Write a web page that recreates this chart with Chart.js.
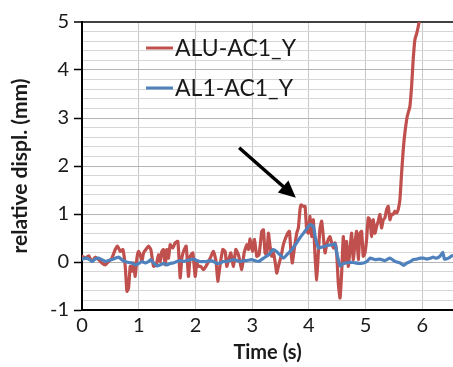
<!DOCTYPE html>
<html>
<head>
<meta charset="utf-8">
<script src="https://cdn.jsdelivr.net/npm/chart.js@4/dist/chart.umd.min.js"></script>
<style>
  html, body { margin: 0; padding: 0; background: #ffffff; }
  #wrap { width: 453px; height: 367px; }
</style>
</head>
<body>
<div id="wrap"><canvas id="c" width="453" height="367"></canvas></div>
<script>
// ---- Data ----
const seriesNames = ['ALU-AC1_Y', 'AL1-AC1_Y'];
const xTickValues = [0, 1, 2, 3, 4, 5, 6];
const yTickValues = [-1, 0, 1, 2, 3, 4, 5];

// ALU-AC1_Y (red)
const tRed = [
  0.00,0.058,0.117,0.175,0.234,0.293,0.351,0.410,0.469,0.527,0.586,0.627,0.674,0.721,0.762,0.792,0.821,0.850,0.880,0.909,
  0.938,0.968,0.997,1.026,1.056,1.085,1.126,1.173,1.214,1.261,1.308,1.349,1.379,1.408,1.437,1.467,1.496,1.525,1.555,1.601,
  1.643,1.690,1.731,1.760,1.789,1.836,1.877,1.907,1.954,1.995,2.024,2.054,2.094,2.141,2.200,2.259,2.317,2.364,2.394,2.435,
  2.482,2.523,2.552,2.593,2.623,2.670,2.711,2.758,2.817,2.858,2.905,2.935,2.963,
  3.004,3.040,3.081,3.121,3.169,3.198,3.227,3.257,3.286,3.315,3.345,3.374,3.403,3.433,3.462,3.509,3.550,3.579,3.626,3.656,
  3.685,3.708,3.744,3.785,3.814,3.843,3.861,3.902,3.932,3.961,3.990,4.020,4.049,4.078,4.107,4.137,4.166,4.196,4.225,4.254,
  4.284,4.313,4.342,4.371,4.401,4.430,4.460,4.489,4.518,4.548,4.577,4.606,4.636,4.665,4.694,4.724,4.753,4.782,4.812,4.841,
  4.870,4.900,4.929,4.958,4.988,5.017,5.046,5.076,5.105,5.134,5.164,5.193,5.222,5.252,5.281,5.310,5.340,5.369,5.398,5.428,
  5.457,5.486,5.516,5.545,5.574,
  5.604,5.634,5.663,5.692,5.733,5.780,5.810,5.838,5.868,5.908,5.944,5.980
];
const vRed = [
  0.12,0.08,0.13,0.01,0.10,0.05,-0.02,-0.06,0.01,0.08,0.26,0.33,0.22,0.26,-0.09,-0.61,-0.54,-0.09,-0.19,-0.02,
  -0.30,0.08,0.22,0.15,0.01,0.19,0.26,0.33,0.26,-0.09,-0.06,0.15,0.01,0.22,0.26,-0.06,0.26,0.08,0.36,0.29,
  0.40,0.43,-0.33,0.08,0.22,0.33,-0.30,0.12,0.19,-0.30,-0.02,-0.09,-0.09,-0.16,-0.06,0.08,0.22,0.01,-0.40,-0.06,
  0.26,0.22,-0.09,0.08,0.19,-0.09,0.26,0.15,-0.16,0.19,0.36,0.26,0.48,
  0.22,0.47,0.12,0.15,0.64,0.67,0.19,0.15,0.60,0.33,0.12,0.19,0.01,-0.23,-0.09,0.12,0.36,0.47,0.60,0.64,
  0.19,-0.02,0.29,0.60,0.71,1.09,1.19,1.16,1.16,0.67,0.60,0.95,0.53,0.88,0.15,-0.37,0.19,0.71,0.85,0.53,
  0.19,0.36,0.47,0.53,0.40,0.29,0.40,0.19,-0.44,-0.75,-0.23,0.53,-0.02,0.43,-0.09,0.26,0.60,0.05,0.40,0.64,
  0.05,0.60,0.64,0.12,0.19,0.47,0.92,0.88,0.53,0.88,0.60,0.74,0.85,0.99,0.71,0.88,0.92,1.09,1.16,0.88,
  0.99,0.99,1.06,1.02,1.09,
  1.30,1.85,2.34,2.69,3.03,3.24,3.66,4.21,4.63,4.80,5.01,5.30
];

// AL1-AC1_Y (blue)
const tBlue = [
  0.00,0.06,0.12,0.18,0.23,0.29,0.35,0.41,0.47,0.53,0.59,0.65,0.70,0.76,0.82,0.88,0.94,1.00,1.06,1.11,
  1.17,1.21,1.26,1.32,1.38,1.44,1.50,1.55,1.61,1.67,1.73,1.79,1.85,1.91,1.97,2.02,2.08,2.14,2.20,2.26,
  2.32,2.38,2.44,2.49,2.55,2.61,2.67,2.73,2.79,2.85,2.90,
  2.99,3.11,3.20,3.29,3.37,3.43,3.49,3.55,3.61,3.70,3.76,3.84,3.93,4.02,4.08,4.11,4.17,4.23,4.31,4.40,
  4.46,4.49,4.55,4.61,4.70,4.78,4.87,4.96,5.02,5.08,5.17,5.25,5.34,5.43,5.52,
  5.61,5.67,5.73,5.79,5.84,5.90,5.96,6.02,6.08,6.14,6.19,6.25,6.31,6.36,6.39,6.46,6.52
];
const vBlue = [
  0.06,0.08,0.06,0.01,0.06,0.08,0.05,0.01,0.03,0.05,0.08,0.10,0.05,0.01,-0.01,-0.02,-0.06,-0.03,0.01,-0.02,
  0.01,0.05,-0.02,-0.08,-0.06,-0.03,-0.06,-0.03,-0.02,0.01,0.03,0.01,0.03,0.05,0.06,0.03,0.01,0.01,0.01,0.03,
  0.01,-0.03,-0.02,0.01,0.01,0.03,0.05,0.03,0.01,0.03,0.03,
  0.05,0.01,0.08,0.15,0.26,0.22,0.15,0.08,0.15,0.26,0.36,0.50,0.64,0.78,0.74,0.53,0.29,0.31,0.34,0.36,
  0.38,0.19,-0.08,-0.03,-0.01,-0.01,-0.03,-0.02,0.01,0.08,0.05,0.06,0.03,0.08,0.01,
  -0.02,-0.07,-0.02,0.01,0.05,0.06,0.08,0.08,0.06,0.08,0.10,0.08,0.12,0.20,0.06,0.08,0.13
];

// Annotation arrow (data coordinates: start -> tip)
const arrowFrom = [2.77, 2.38];
const arrowTo = [3.77, 1.34];

const RED = '#c0504d';
const BLUE = '#4f81bd';
const FONT = 'Lato, "Open Sans", "DejaVu Sans", sans-serif';

function pts(ts, vs) { return ts.map((t, i) => ({ x: t, y: vs[i] })); }
function isInt(v) { return Math.abs(v - Math.round(v)) < 1e-6; }

const legendPlugin = {
  id: 'insideLegend',
  afterDraw(chart) {
    const ctx = chart.ctx;
    const items = [
      { label: seriesNames[0], color: RED, y: 48 },
      { label: seriesNames[1], color: BLUE, y: 88 }
    ];
    ctx.save();
    items.forEach(it => {
      ctx.strokeStyle = it.color;
      ctx.lineWidth = 3;
      ctx.beginPath();
      ctx.moveTo(146, it.y);
      ctx.lineTo(173, it.y);
      ctx.stroke();
      ctx.fillStyle = '#1a1a1a';
      ctx.font = '23px ' + FONT;
      ctx.textBaseline = 'middle';
      ctx.textAlign = 'left';
      ctx.fillText(it.label, 175, it.y + 1);
    });
    ctx.restore();
  }
};

const arrowPlugin = {
  id: 'arrow',
  afterDatasetsDraw(chart) {
    const xs = chart.scales.x, ys = chart.scales.y, ctx = chart.ctx;
    const x0 = xs.getPixelForValue(arrowFrom[0]), y0 = ys.getPixelForValue(arrowFrom[1]);
    const x1 = xs.getPixelForValue(arrowTo[0]), y1 = ys.getPixelForValue(arrowTo[1]);
    const ang = Math.atan2(y1 - y0, x1 - x0);
    const headLen = 17, headW = 8;
    const bx = x1 - headLen * Math.cos(ang), by = y1 - headLen * Math.sin(ang);
    ctx.save();
    ctx.strokeStyle = '#000';
    ctx.fillStyle = '#000';
    ctx.lineWidth = 3.5;
    ctx.beginPath();
    ctx.moveTo(x0, y0);
    ctx.lineTo(bx + 2 * Math.cos(ang), by + 2 * Math.sin(ang));
    ctx.stroke();
    ctx.beginPath();
    ctx.moveTo(x1, y1);
    ctx.lineTo(bx + headW * Math.sin(ang), by - headW * Math.cos(ang));
    ctx.lineTo(bx - headW * Math.sin(ang), by + headW * Math.cos(ang));
    ctx.closePath();
    ctx.fill();
    ctx.restore();
  }
};

function build() {
  new Chart(document.getElementById('c'), {
    type: 'line',
    data: {
      datasets: [
        { label: seriesNames[0], data: pts(tRed, vRed), borderColor: RED, borderWidth: 3.2,
          pointRadius: 0, tension: 0.15, borderJoinStyle: 'round', borderCapStyle: 'round', order: 1 },
        { label: seriesNames[1], data: pts(tBlue, vBlue), borderColor: BLUE, borderWidth: 3.2,
          pointRadius: 0, tension: 0.15, borderJoinStyle: 'round', borderCapStyle: 'round', order: 0 }
      ]
    },
    options: {
      responsive: false,
      animation: false,
      devicePixelRatio: 1,
      layout: { padding: { top: 22, right: 0, bottom: 0, left: 0 } },
      plugins: { legend: { display: false }, tooltip: { enabled: false } },
      scales: {
        x: {
          type: 'linear', min: 0, max: 6.54,
          afterFit(s) { s.height = 57; },
          ticks: {
            stepSize: 1, includeBounds: false, autoSkip: false, maxRotation: 0,
            color: '#1a1a1a', font: { family: FONT, size: 20 }, padding: 4,
            callback: v => (xTickValues.includes(Math.round(v)) && isInt(v)) ? String(Math.round(v)) : ''
          },
          grid: { color: '#c8c8c8', lineWidth: 1, drawTicks: false },
          border: { color: '#000', width: 2 },
          title: { display: true, text: 'Time (s)', color: '#1a1a1a',
                   font: { family: FONT, size: 20, weight: 'bold' }, padding: { top: 0, bottom: 2 } }
        },
        y: {
          type: 'linear', min: -1, max: 5,
          afterFit(s) { s.width = 82; },
          ticks: {
            stepSize: 0.2, autoSkip: false, color: '#1a1a1a', font: { family: FONT, size: 20 }, padding: 5,
            callback: v => (isInt(v) && yTickValues.includes(Math.round(v))) ? String(Math.round(v)) : ''
          },
          grid: {
            tickLength: 8,
            color: c => isInt(c.tick.value) ? (Math.round(c.tick.value) === 5 ? '#404040' : '#b4b4b4') : '#d6d6d6',
            lineWidth: c => (isInt(c.tick.value) && Math.round(c.tick.value) === 5) ? 2 : 1,
            tickColor: c => isInt(c.tick.value) ? '#000' : 'rgba(0,0,0,0)',
            tickWidth: 1.5
          },
          border: { color: '#000', width: 2 },
          title: { display: true, text: 'relative displ. (mm)', color: '#1a1a1a',
                   font: { family: FONT, size: 21, weight: 'bold' }, padding: { top: 8, bottom: 0 } }
        }
      }
    },
    plugins: [arrowPlugin, legendPlugin]
  });
}

const fontLoads = document.fonts ? Promise.all([
  document.fonts.load('20px Lato'), document.fonts.load('bold 20px Lato')
]).catch(() => null) : Promise.resolve();
fontLoads.then(build, build);
</script>
</body>
</html>
